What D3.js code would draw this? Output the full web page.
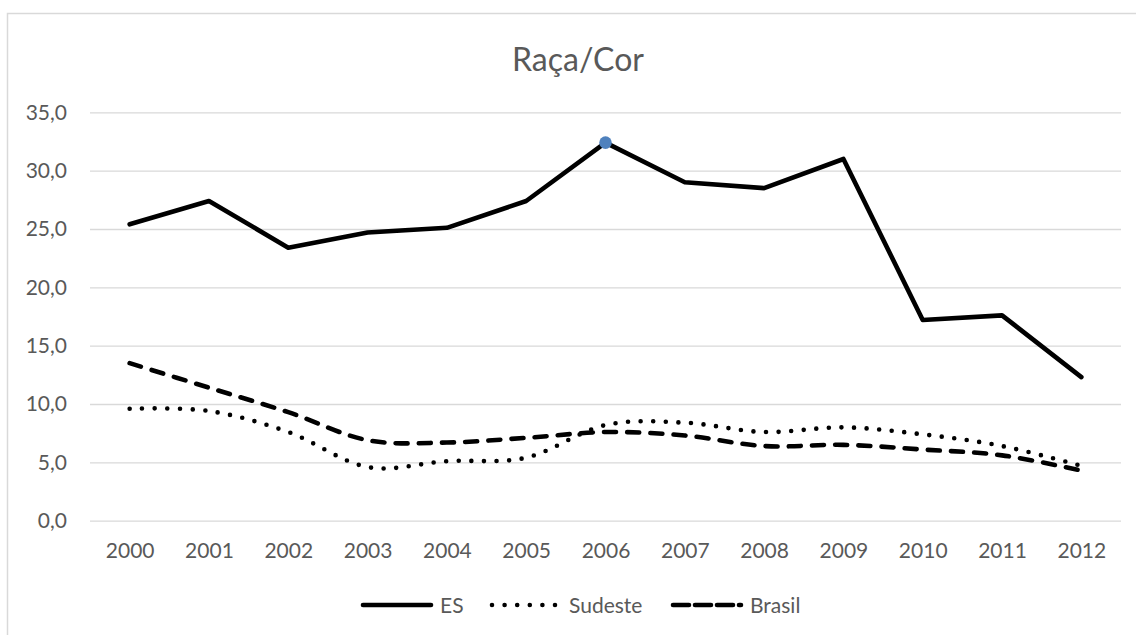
<!DOCTYPE html>
<html>
<head>
<meta charset="utf-8">
<script src="https://cdn.jsdelivr.net/npm/d3@7"></script>
<style>
  body { margin: 0; background: #fff; }
  text { font-family: Lato, "Open Sans", sans-serif; fill: #595959; }
</style>
</head>
<body>
<div id="chart"></div>
<script>
// Data
const years = ["2000", "2001", "2002", "2003", "2004", "2005", "2006", "2007", "2008", "2009", "2010", "2011", "2012"];
const es      = [25.4, 27.4, 23.4, 24.7, 25.1, 27.4, 32.4, 29.0, 28.5, 31.0, 17.2, 17.6, 12.3];
const sudeste = [9.6, 9.4, 7.6, 4.6, 5.1, 5.4, 8.2, 8.4, 7.6, 8.0, 7.4, 6.4, 4.7];
const brasil  = [13.5, 11.4, 9.3, 6.9, 6.7, 7.1, 7.6, 7.3, 6.4, 6.5, 6.1, 5.6, 4.3];
const yTicks  = [0, 5, 10, 15, 20, 25, 30, 35];
const highlightYear = "2006";

const width = 1136, height = 635;
const plot = { left: 90, right: 1121, top: 112.3, bottom: 520.7 };

const svg = d3.select("#chart")
    .append("svg")
    .attr("width", width)
    .attr("height", height);

// Chart frame (runs off the right and bottom edge)
svg.append("rect")
    .attr("x", 7.5).attr("y", 13.5)
    .attr("width", 1200).attr("height", 700)
    .attr("fill", "none")
    .attr("stroke", "#d9d9d9")
    .attr("stroke-width", 1.5);

const x = d3.scalePoint()
    .domain(years)
    .range([plot.left, plot.right])
    .padding(0.5);

const y = d3.scaleLinear()
    .domain([0, 35])
    .range([plot.bottom, plot.top]);

const fmt = v => d3.format(".1f")(v).replace(".", ",");

// Gridlines + left labels
const leftAxis = d3.axisLeft(y)
    .tickValues(yTicks)
    .tickFormat(fmt)
    .tickSize(-(plot.right - plot.left))
    .tickPadding(23);

svg.append("g")
    .attr("transform", `translate(${plot.left},0)`)
    .call(leftAxis)
    .call(g => g.select(".domain").remove())
    .call(g => g.selectAll("line").attr("stroke", "#d9d9d9").attr("stroke-width", 1.3))
    .call(g => g.selectAll("text").attr("font-size", 21).attr("fill", "#595959"));

// Bottom labels
const bottomAxis = d3.axisBottom(x).tickSize(0).tickPadding(22);
svg.append("g")
    .attr("transform", `translate(0,${plot.bottom})`)
    .call(bottomAxis)
    .call(g => g.select(".domain").remove())
    .call(g => g.selectAll("text").attr("font-size", 21).attr("fill", "#595959"));

// Title
svg.append("text")
    .text("Raça/Cor")
    .attr("x", 578)
    .attr("y", 71)
    .attr("text-anchor", "middle")
    .attr("font-size", 32);

// Series
const series = [
    { name: "ES", values: es, curve: d3.curveLinear, dash: null },
    { name: "Sudeste", values: sudeste, curve: d3.curveCardinal.tension(0), dash: "0 12.6" },
    { name: "Brasil", values: brasil, curve: d3.curveCardinal.tension(0), dash: "12 11.2" }
];

series.forEach(s => {
    const line = d3.line()
        .x((d, i) => x(years[i]))
        .y(d => y(d))
        .curve(s.curve);
    svg.append("path")
        .datum(s.values)
        .attr("d", line)
        .attr("fill", "none")
        .attr("stroke", "#000")
        .attr("stroke-width", 4.6)
        .attr("stroke-linejoin", "round")
        .attr("stroke-linecap", "round")
        .attr("stroke-dasharray", s.dash);
});

// Highlighted point on ES
const hi = years.indexOf(highlightYear);
svg.append("circle")
    .attr("cx", x(years[hi]))
    .attr("cy", y(es[hi]))
    .attr("r", 6.3)
    .attr("fill", "#4f81bd");

// Legend
const legendX = [363, 492, 673];
const legend = svg.append("g").attr("transform", "translate(0,605)");
series.forEach((s, i) => {
    const g = legend.append("g").attr("transform", `translate(${legendX[i]},0)`);
    g.append("line")
        .attr("x1", 0).attr("x2", 68)
        .attr("stroke", "#000")
        .attr("stroke-width", 4.6)
        .attr("stroke-linecap", "round")
        .attr("stroke-dasharray", s.name === "Brasil" ? "16 6" : s.dash);
    g.append("text")
        .text(s.name)
        .attr("x", 77)
        .attr("dy", "0.36em")
        .attr("font-size", 21);
});
</script>
</body>
</html>
